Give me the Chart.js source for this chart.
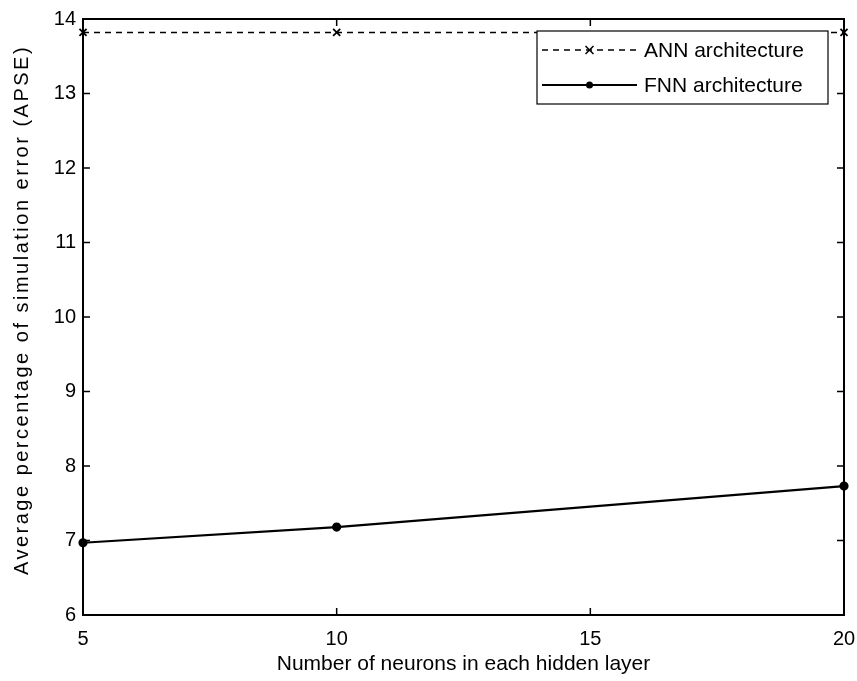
<!DOCTYPE html>
<html>
<head>
<meta charset="utf-8">
<script src="https://cdn.jsdelivr.net/npm/chart.js@4.4.1/dist/chart.umd.min.js"></script>
<style>
  html, body { margin: 0; padding: 0; background: #fff; }
  #wrap { width: 857px; height: 681px; }
</style>
</head>
<body>
<div id="wrap"><canvas id="apse" width="857" height="681"></canvas></div>
<script>
/* ---- dados ---- */
const neurons = [5, 10, 20];
const annApse = [13.82, 13.82, 13.82];
const fnnApse = [6.97, 7.18, 7.73];
const xTicks = [5, 10, 15, 20];
const yTicks = [6, 7, 8, 9, 10, 11, 12, 13, 14];
const legendLabels = ['ANN architecture', 'FNN architecture'];
const yTitle = 'Average percentage of simulation error (APSE)';

const FONT = '"Liberation Sans", Arial, sans-serif';

/* moldura + ticks para dentro (estilo MATLAB), título Y e legenda em caixa */
const framePlugin = {
  id: 'frame',
  afterDraw(chart) {
    const { ctx, chartArea: a, scales: { x, y } } = chart;
    const t = 7;
    ctx.save();
    ctx.strokeStyle = '#000';
    ctx.lineWidth = 2;
    ctx.strokeRect(a.left, a.top, a.right - a.left, a.bottom - a.top);
    ctx.lineWidth = 1.5;
    ctx.beginPath();
    xTicks.forEach(v => {
      const px = x.getPixelForValue(v);
      ctx.moveTo(px, a.bottom); ctx.lineTo(px, a.bottom - t);
      ctx.moveTo(px, a.top); ctx.lineTo(px, a.top + t);
    });
    yTicks.forEach(v => {
      const py = y.getPixelForValue(v);
      ctx.moveTo(a.left, py); ctx.lineTo(a.left + t, py);
      ctx.moveTo(a.right, py); ctx.lineTo(a.right - t, py);
    });
    ctx.stroke();

    // título do eixo Y (espaçado como no original)
    ctx.save();
    ctx.translate(22, 310);
    ctx.rotate(-Math.PI / 2);
    ctx.font = '20px ' + FONT;
    ctx.letterSpacing = '2.5px';
    ctx.textAlign = 'center';
    ctx.textBaseline = 'middle';
    ctx.fillStyle = '#000';
    ctx.fillText(yTitle, 0, 0);
    ctx.restore();

    // legenda
    const bx = 537, by = 31, bw = 291, bh = 73;
    ctx.fillStyle = '#fff';
    ctx.fillRect(bx, by, bw, bh);
    ctx.lineWidth = 1.2;
    ctx.strokeRect(bx, by, bw, bh);
    ctx.font = '21px ' + FONT;
    ctx.textBaseline = 'middle';
    chart.data.datasets.forEach((ds, i) => {
      const yy = by + 19 + i * 35;
      const x0 = bx + 5, x1 = bx + 100, xm = (x0 + x1) / 2;
      ctx.strokeStyle = '#000';
      ctx.lineWidth = ds.borderWidth;
      ctx.setLineDash(ds.borderDash || []);
      ctx.beginPath(); ctx.moveTo(x0, yy); ctx.lineTo(x1, yy); ctx.stroke();
      ctx.setLineDash([]);
      if (ds.pointStyle === 'crossRot') {
        ctx.lineWidth = 1.5;
        ctx.beginPath();
        ctx.moveTo(xm - 4, yy - 4); ctx.lineTo(xm + 4, yy + 4);
        ctx.moveTo(xm + 4, yy - 4); ctx.lineTo(xm - 4, yy + 4);
        ctx.stroke();
      } else {
        ctx.fillStyle = '#000';
        ctx.beginPath(); ctx.arc(xm, yy, 3.5, 0, Math.PI * 2); ctx.fill();
      }
      ctx.fillStyle = '#000';
      ctx.fillText(legendLabels[i], bx + 107, yy + 1);
    });
    ctx.restore();
  }
};

new Chart(document.getElementById('apse'), {
  type: 'line',
  data: {
    datasets: [
      {
        label: legendLabels[0],
        data: neurons.map((n, i) => ({ x: n, y: annApse[i] })),
        borderColor: '#000', backgroundColor: '#000',
        borderWidth: 1.5, borderDash: [6, 5],
        pointStyle: 'crossRot', pointRadius: 5, pointBorderWidth: 1.8,
        clip: false
      },
      {
        label: legendLabels[1],
        data: neurons.map((n, i) => ({ x: n, y: fnnApse[i] })),
        borderColor: '#000', backgroundColor: '#000',
        borderWidth: 2.2,
        pointStyle: 'circle', pointRadius: 3.5,
        clip: false
      }
    ]
  },
  options: {
    responsive: false,
    animation: false,
    layout: { padding: { top: 19, right: 13, left: 0, bottom: 0 } },
    plugins: { legend: { display: false }, tooltip: { enabled: false } },
    scales: {
      x: {
        type: 'linear', min: 5, max: 20,
        afterBuildTicks: s => { s.ticks = xTicks.map(v => ({ value: v })); },
        afterFit: s => { s.height = 66; s.paddingLeft = 0; s.paddingRight = 0; },
        grid: { display: false, drawTicks: false, tickLength: 0 }, border: { display: false },
        ticks: { color: '#000', font: { family: FONT, size: 20 }, padding: 12, maxRotation: 0 },
        title: { display: true, text: 'Number of neurons in each hidden layer', color: '#000',
                 font: { family: FONT, size: 21 }, padding: { top: 0, bottom: 4 } }
      },
      y: {
        type: 'linear', min: 6, max: 14,
        afterBuildTicks: s => { s.ticks = yTicks.map(v => ({ value: v })); },
        afterFit: s => { s.width = 83; },
        grid: { display: false, drawTicks: false, tickLength: 0 }, border: { display: false },
        ticks: { color: '#000', font: { family: FONT, size: 20 }, padding: 7 },
        title: { display: false }
      }
    }
  },
  plugins: [framePlugin]
});
</script>
</body>
</html>
